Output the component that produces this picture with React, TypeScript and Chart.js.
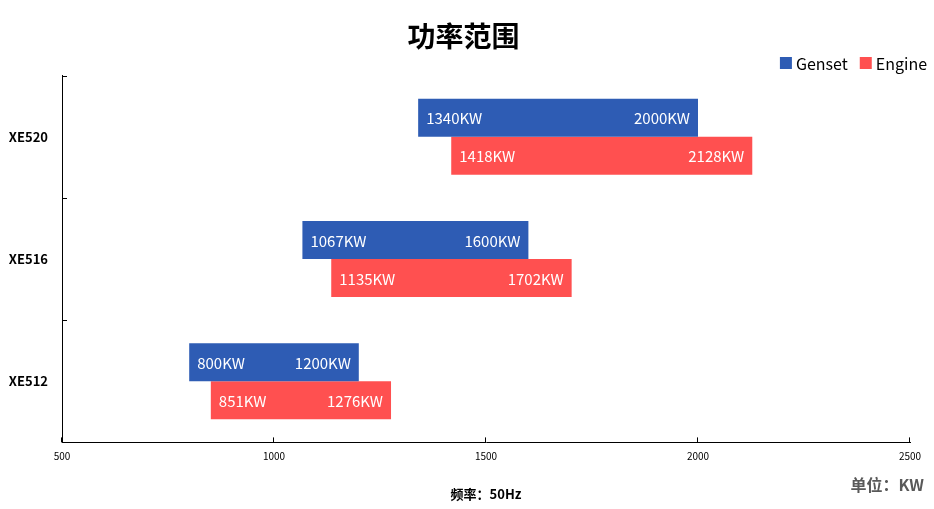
import React, { useEffect, useRef } from "react";
import { Chart, registerables } from "chart.js";

Chart.register(...registerables);

const categories = ["XE520", "XE516", "XE512"];
const gensetStart = [1340, 1067, 800];
const gensetEnd = [2000, 1600, 1200];
const engineStart = [1418, 1135, 851];
const engineEnd = [2128, 1702, 1276];
const xTicks = [500, 1000, 1500, 2000, 2500];
const seriesNames = ["Genset", "Engine"];
const seriesColors = ["#2E5CB4", "#FF5050"];
const titleText = "功率范围";
const xTitle = "频率：50Hz";
const unitText = "单位：KW";

const FONT = "'Noto Sans CJK SC', 'Noto Sans', sans-serif";

const barLabelPlugin = {
  id: "barLabels",
  afterDatasetsDraw(chart: any) {
    const ctx = chart.ctx;
    ctx.save();
    ctx.fillStyle = "#ffffff";
    ctx.font = `15px ${FONT}`;
    ctx.textBaseline = "middle";
    chart.data.datasets.forEach((ds: any, di: number) => {
      const meta = chart.getDatasetMeta(di);
      meta.data.forEach((el: any, i: number) => {
        const v = ds.data[i];
        const left = Math.min(el.x, el.base);
        const right = Math.max(el.x, el.base);
        ctx.textAlign = "left";
        ctx.fillText(`${v[0]}KW`, left + 8, el.y + 1);
        ctx.textAlign = "right";
        ctx.fillText(`${v[1]}KW`, right - 8, el.y + 1);
      });
    });
    ctx.restore();
  },
};

const axisDecorPlugin = {
  id: "axisDecor",
  afterDraw(chart: any) {
    const ctx = chart.ctx;
    const { x, y } = chart.scales;
    const area = chart.chartArea;
    ctx.save();
    ctx.strokeStyle = "#000000";
    ctx.lineWidth = 1;
    const n = categories.length;
    const step = (y.getPixelForValue(n - 1) - y.getPixelForValue(0)) / (n - 1);
    for (let i = 0; i <= n - 1; i++) {
      const py = Math.round(y.getPixelForValue(i) - step / 2) + 0.5;
      ctx.beginPath();
      ctx.moveTo(area.left, py);
      ctx.lineTo(area.left + 5, py);
      ctx.stroke();
    }
    xTicks.forEach((v) => {
      const px = Math.round(x.getPixelForValue(v)) - 0.5;
      ctx.beginPath();
      ctx.moveTo(px, area.bottom);
      ctx.lineTo(px, area.bottom - 5);
      ctx.stroke();
    });
    // unit text
    ctx.fillStyle = "#595959";
    ctx.font = `bold 16px ${FONT}`;
    ctx.textAlign = "right";
    ctx.textBaseline = "middle";
    ctx.fillText(unitText, chart.width - 10, 485);
    // legend
    ctx.font = `16px ${FONT}`;
    ctx.textAlign = "left";
    let right = chart.width - 7;
    const cy = 63;
    for (let i = seriesNames.length - 1; i >= 0; i--) {
      const w = ctx.measureText(seriesNames[i]).width;
      const tx = right - w;
      ctx.fillStyle = "#000";
      ctx.fillText(seriesNames[i], tx, cy + 1);
      const bx = tx - 16;
      ctx.fillStyle = seriesColors[i];
      ctx.fillRect(bx, cy - 6, 12, 12);
      right = bx - 12;
    }
    ctx.restore();
  },
};

export default function App() {
  const ref = useRef<HTMLCanvasElement>(null);
  useEffect(() => {
    if (!ref.current) return;
    const chart = new Chart(ref.current, {
      type: "bar",
      data: {
        labels: categories,
        datasets: seriesNames.map((name, k) => ({
          label: name,
          data: (k === 0 ? gensetStart : engineStart).map((s, i) => [
            s,
            (k === 0 ? gensetEnd : engineEnd)[i],
          ]),
          backgroundColor: seriesColors[k],
          categoryPercentage: 0.62,
          barPercentage: 1,
        })),
      },
      plugins: [barLabelPlugin, axisDecorPlugin],
      options: {
        indexAxis: "y",
        animation: false,
        responsive: false,
        layout: { padding: { left: 0, right: 7, top: 10, bottom: 7 } },
        plugins: {
          title: {
            display: true,
            text: titleText,
            color: "#000",
            font: { family: FONT, size: 28, weight: "bold" },
            padding: { top: 10, bottom: 22 },
          },
          legend: { display: false },
          tooltip: { enabled: false },
        },
        scales: {
          x: {
            min: 500,
            max: 2500,
            afterBuildTicks: (s: any) => {
              s.ticks = xTicks.map((v) => ({ value: v }));
            },
            afterFit: (s: any) => {
              s.paddingRight = 24;
            },
            grid: { display: false, drawTicks: false },
            border: { display: true, color: "#000", width: 1 },
            ticks: {
              color: "#000",
              font: { family: FONT, size: 10 },
              padding: 8,
              maxRotation: 0,
              callback: (v: any) => String(v),
            },
            title: {
              display: true,
              text: xTitle,
              color: "#000",
              font: { family: FONT, size: 13, weight: "bold" },
              padding: { top: 16, bottom: 0 },
            },
          },
          y: {
            afterFit: (s: any) => {
              s.width = 62;
            },
            grid: { display: false, drawTicks: false },
            border: { display: true, color: "#000", width: 1 },
            ticks: {
              color: "#000",
              font: { family: FONT, size: 13, weight: "bold" },
              padding: 14,
            },
          },
        },
      },
    });
    return () => chart.destroy();
  }, []);
  return (
    <div style={{ position: "fixed", left: 0, top: 0, width: 934, height: 509, background: "#fff" }}>
      <canvas ref={ref} width={934} height={509} />
    </div>
  );
}
